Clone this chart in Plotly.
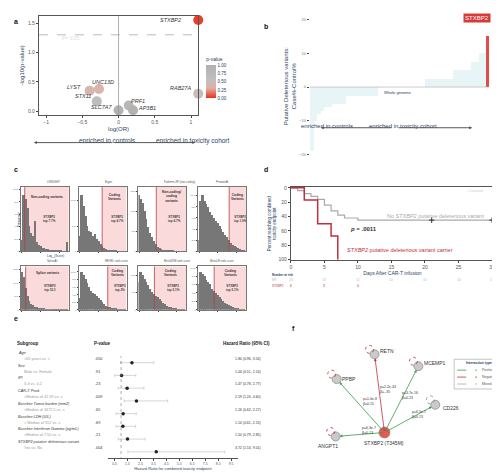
import plotly.graph_objects as go

W, H = 500, 473

# ---- panel a data
genes_a = ["STXBP2", "RAB27A", "UNC13D", "LYST", "STX11", "SLC7A7", "PRF1", "AP3B1"]
logor_a = [1.1, 1.1, -0.27, -0.4, -0.3, 0.0, 0.14, 0.2]
nlogp_a = [1.55, 0.3, 0.38, 0.35, 0.17, 0.02, 0.1, 0.02]
pval_a = [0.03, 0.5, 0.35, 0.4, 0.65, 0.95, 0.8, 0.95]

# ---- panel b data
burden_b = [-19, -10, -8, -7, -6, -6, -5, -5, -5, -5, -2.5, -2.5, -2.5, -2.5, -2.5, -2.5, -2.5, -2.5, -2.5,
            0, 0, 0, 0, 0, 0, 0, 0, 0, 0, 0, 0, 0,
            2.5, 2.5, 2.5, 2.5, 2.5, 2.5, 2.5, 2.5, 5, 5, 5, 5, 5, 7.5, 7.5, 10, 10, 15]

# ---- panel c data
c_titles = ["LINSIGHT", "Eigen", "Fathmm-XF (non-coding)", "PrimateAI",
            "SpliceAI", "REVEL rank score", "MetaSVM rank score", "MetaLR rank score"]
c_labels = ["Non-coding variants", "Coding<br>Variants", "Non-coding/<br>coding<br>variants", "Coding<br>Variants",
            "Splice variants", "Coding<br>Variants", "Coding<br>Variants", "Coding<br>Variants"]
c_tops = ["STXBP2<br>top 7.7%", "STXBP2<br>top 4.7%", "STXBP2<br>top 4.7%", "STXBP2<br>top 1.9%",
          "STXBP2<br>top 33.3", "STXBP2<br>top 2%", "STXBP2<br>top 5.1%", "STXBP2<br>top 5.1%"]
c_counts = [
    [180, 900, 850, 700, 400, 300, 250, 480, 150, 100, 80, 60, 50, 40, 30, 20, 20, 15, 10, 10, 8, 6, 5, 5, 150],
    [300, 1100, 900, 700, 500, 400, 380, 300, 350, 250, 200, 150, 100, 60, 40, 30, 20, 15, 10, 8, 5, 4, 3, 2, 1],
    [1400, 1300, 1200, 1000, 800, 600, 450, 350, 250, 180, 120, 80, 60, 40, 30, 20, 15, 10, 8, 6, 5, 4, 3, 2, 1],
    [200, 900, 1000, 900, 850, 800, 700, 650, 600, 550, 500, 450, 400, 350, 300, 250, 200, 150, 120, 100, 80, 60, 40, 20, 10],
    [1400, 1200, 800, 500, 300, 200, 150, 100, 80, 60, 40, 30, 20, 15, 10, 8, 6, 5, 4, 3, 2, 2, 1, 1, 1],
    [300, 1000, 900, 800, 700, 600, 500, 450, 400, 350, 300, 250, 200, 150, 100, 80, 60, 40, 30, 20, 10, 8, 5, 3, 2],
    [800, 1100, 1000, 900, 800, 700, 600, 500, 450, 400, 350, 300, 250, 200, 150, 100, 80, 60, 40, 30, 20, 10, 5, 3, 2],
    [600, 900, 850, 800, 700, 650, 600, 500, 450, 400, 350, 300, 250, 200, 150, 120, 100, 80, 60, 40, 30, 20, 10, 5, 2],
]
c_cut = [1.5, 12, 9, 16, 2, 15, 8, 8]

# ---- panel d data
wt_t = [0, 1, 2, 3, 4, 5, 6, 7, 8, 10, 30]
wt_s = [0, 4, 8, 12, 16, 24, 32, 38, 42, 45, 45]
mut_t = [0, 2, 4, 6, 7]
mut_s = [0, 17, 50, 67, 100]
cens_t = [21, 30]
cens_s = [45, 45]
risk_days = [0, 5, 10, 15, 20, 25, 30]
risk_wt = ["23", "13", "11", "10", "10", "10", "10"]
risk_mut = ["6", "3", "0"]

# ---- panel e data
e_groups = ["Age", "Sex", "IPI", "CAR-T Peak", "Baseline Tumor burden (mm2)", "Baseline LDH (U/L)",
            "Baseline Interferon Gamma (pg/mL)", "STXBP2 putative deleterious variant"]
e_sub = [">65 years vs. <", "Male vs. Female", "3-4 vs. 0-2", ">Median of 42.59 vs. \u2264",
         ">Median of 3472.5 vs. \u2264", "> Median of 312 vs. \u2264", ">Median of 7.50 vs. \u2264", "Yes vs. No"]
e_p = [".050", ".91", ".23", ".009", ".65", ".69", ".21", ".004"]
e_hr = [1.84, 1.04, 1.47, 2.19, 1.16, 1.14, 1.50, 3.72]
e_lo = [0.96, 0.51, 0.78, 1.24, 0.62, 0.61, 0.79, 1.53]
e_hi = [3.54, 2.14, 2.77, 4.60, 2.17, 2.13, 2.85, 9.01]

# ---- panel f data
f_nodes = ["STXBP2 (T345M)", "RETN", "PPBP", "MCEMP1", "CD226", "ANGPT1"]
f_x = [377, 367, 329, 411, 428, 328]
f_y = [426, 347, 372, 359, 398, 430]
f_type = ["", "neg", "pos", "pos", "pos", "pos"]
f_stat = ["", "p=2.2e-43<br>\u03b2=-.35", "p=1.0e-8<br>\u03b2=0.15", "p=3.7e-16<br>\u03b2=0.23",
          "p=6.5e-7<br>\u03b2=0.13", "p=6.3e-7<br>\u03b2=0.13"]


def dom(x0, x1, y0, y1):
    return [x0 / W, x1 / W], [1 - y1 / H, 1 - y0 / H]


def px(x):
    return x / W


def py(y):
    return 1 - y / H


fig = go.Figure()
lay = {}
ann = []
shapes = []


def add_axes(i, xd, yd, **kw):
    s = "" if i == 1 else str(i)
    lay["xaxis" + s] = dict(domain=xd, anchor="y" + s, **kw.get("x", {}))
    lay["yaxis" + s] = dict(domain=yd, anchor="x" + s, **kw.get("y", {}))


def paper_arrow(x_tail, x_head, y):
    ann.append(dict(x=px(x_head), y=py(y), ax=x_tail - x_head, ay=0, xref="paper", yref="paper",
                    axref="pixel", ayref="pixel", text="", showarrow=True, arrowhead=2, arrowsize=0.6,
                    arrowwidth=1, arrowcolor="#555"))


ax_common = dict(showgrid=False, zeroline=False, tickfont=dict(size=5, color="#555"), ticks="outside",
                 ticklen=2, linecolor="#555", showline=True)

# panel a
xd, yd = dom(30, 190, 5, 105)
add_axes(1, xd, yd, x=dict(range=[-1.1, 1.1], tickvals=[-1, -0.5, 0, 0.5, 1], mirror=True,
                           title=dict(text="log(OR)", font=dict(size=6), standoff=2), **ax_common),
         y=dict(range=[-0.06, 1.62], tickvals=[0, 0.5, 1, 1.5], tickformat=".1f", mirror=True,
                title=dict(text="-log10(p-value)", font=dict(size=6), standoff=2), **ax_common))
fig.add_trace(go.Scatter(x=logor_a, y=nlogp_a, mode="markers", xaxis="x", yaxis="y", cliponaxis=False,
                         marker=dict(size=10, color=pval_a, cmin=0, cmax=1,
                                     colorscale=[[0, "#e8321e"], [0.3, "#e0b0a5"], [0.55, "#c0c0c0"], [1, "#b0b0b0"]],
                                     colorbar=dict(x=px(198), y=py(66), yanchor="middle", lenmode="pixels",
                                                   len=44, thickness=10, xanchor="left",
                                                   title=dict(text="p-value", font=dict(size=5), side="top"),
                                                   tickvals=[0, 0.25, 0.5, 0.75, 1], tickformat=".2f",
                                                   tickfont=dict(size=4.5), outlinewidth=0, ypad=0, xpad=0))))
shapes.append(dict(type="line", xref="x", yref="y", x0=-1.1, x1=1.1, y0=1.3, y1=1.3,
                   line=dict(color="#bbb", dash="dash", width=1)))
shapes.append(dict(type="line", xref="x", yref="y", x0=0, x1=0, y0=-0.06, y1=1.62, line=dict(color="#999", width=0.8)))
ann.append(dict(x=-0.65, y=1.24, xref="x", yref="y", text="P= 0.05", showarrow=False,
                font=dict(size=5, color="#ddd")))
lab_off = {"STXBP2": (-28, 0), "RAB27A": (-18, -6), "UNC13D": (4, -7), "LYST": (-16, -4), "STX11": (-14, -5),
           "SLC7A7": (-17, -3), "PRF1": (9, -4), "AP3B1": (14, -2)}
for g, xv, yv in zip(genes_a, logor_a, nlogp_a):
    ax_, ay_ = lab_off[g]
    ann.append(dict(x=xv, y=yv, xref="x", yref="y", text="<i>" + g + "</i>", showarrow=False, xshift=ax_,
                    yshift=-ay_, font=dict(size=5.5, color="#333")))
ann.append(dict(x=px(68), y=py(125), xref="paper", yref="paper", text="enriched in controls", showarrow=False,
                font=dict(size=6.5)))
ann.append(dict(x=px(146), y=py(125), xref="paper", yref="paper", text="enriched in toxicity cohort",
                showarrow=False, font=dict(size=6.5)))
paper_arrow(105, 25, 133)
paper_arrow(105, 187, 133)

# panel b
xd, yd = dom(302, 482, 5, 147)
add_axes(2, xd, yd, x=dict(visible=False, range=[-0.5, len(burden_b) - 0.5]),
         y=dict(range=[-20.5, 21], tickvals=[-20, -10, 0, 10, 20], showgrid=False, zeroline=False,
                tickfont=dict(size=4, color="#777"), ticks="outside", ticklen=2, showline=False,
                title=dict(text="Putative Deleterious variants:<br>Case%-Control%", font=dict(size=6), standoff=2)))
fig.add_trace(go.Bar(x=list(range(len(burden_b))), y=burden_b, xaxis="x2", yaxis="y2", width=1,
                     marker=dict(color=["#e8f5f7"] * (len(burden_b) - 1) + ["#e34a4a"], line_width=0)))
shapes.append(dict(type="line", xref="x2", yref="y2", x0=-0.5, x1=len(burden_b) - 0.5, y0=0, y1=0,
                   line=dict(color="#aaa", width=0.6)))
ann.append(dict(x=24, y=-1.5, xref="x2", yref="y2", text="Whole genome", showarrow=False, font=dict(size=4)))
ann.append(dict(x=len(burden_b) - 4, y=20.5, xref="x2", yref="y2", text="STXBP2", showarrow=False,
                bgcolor="#d83a3a", font=dict(size=6, color="white"), borderpad=1))
ann.append(dict(x=px(347), y=py(111), xref="paper", yref="paper", text="enriched in controls", showarrow=False,
                font=dict(size=6)))
ann.append(dict(x=px(432), y=py(111), xref="paper", yref="paper", text="enriched in toxicity cohort",
                showarrow=False, font=dict(size=6)))
paper_arrow(385, 313, 118)
paper_arrow(390, 465, 118)

# panel c
c_cols = [(12, 60), (70, 118), (130, 178), (190, 238)]
c_rows = [(178, 243), (258, 302)]
for k in range(8):
    i = 3 + k
    s = str(i)
    cx0, cx1 = c_cols[k % 4]
    cy0, cy1 = c_rows[k // 4]
    ymax = max(c_counts[k]) * 1.15
    xd, yd = dom(cx0, cx1, cy0, cy1)
    add_axes(i, xd, yd, x=dict(range=[-0.5, 25], showticklabels=False, ticks="outside", ticklen=1,
                               showline=True, linecolor="#777", showgrid=False, zeroline=False, mirror=True),
             y=dict(range=[0, ymax], nticks=6, tickfont=dict(size=2.5, color="#777"), ticks="outside",
                    ticklen=1, showline=True, linecolor="#777", showgrid=False, zeroline=False, mirror=True))
    fig.add_trace(go.Bar(x=list(range(25)), y=c_counts[k], xaxis="x" + s, yaxis="y" + s, width=1,
                         marker=dict(color="#777", line_width=0)))
    shapes.append(dict(type="rect", xref="x" + s, yref="y" + s, x0=c_cut[k], x1=25, y0=0, y1=ymax,
                       fillcolor="rgba(240,150,150,0.35)", line_width=0, layer="below"))
    shapes.append(dict(type="line", xref="x" + s, yref="y" + s, x0=c_cut[k], x1=c_cut[k], y0=0, y1=ymax,
                       line=dict(color="#b84040", width=0.8)))
    mid = (c_cut[k] + 25) / 2
    ann.append(dict(x=mid, y=ymax * 0.85, xref="x" + s, yref="y" + s, text="<b>" + c_labels[k] + "</b>",
                    showarrow=False, font=dict(size=3.3, color="#333")))
    ann.append(dict(x=mid + 1.5, y=ymax * 0.5, xref="x" + s, yref="y" + s, text="<b>" + c_tops[k] + "</b>",
                    showarrow=False, font=dict(size=3, color="#444")))
    ann.append(dict(x=(cx0 + cx1) / 2 / W, y=py(cy0 - 1), xref="paper", yref="paper", text=c_titles[k],
                    yanchor="bottom", showarrow=False, font=dict(size=2.8, color="#555")))
ann.append(dict(x=px(6), y=py(210), xref="paper", yref="paper", text="Frequency", textangle=-90,
                showarrow=False, font=dict(size=3)))
ann.append(dict(x=px(36), y=py(248), xref="paper", yref="paper", text="Log<sub>10</sub>(Score)",
                showarrow=False, font=dict(size=3)))

# panel d
xd, yd = dom(283, 487, 178, 252)
add_axes(11, xd, yd, x=dict(range=[0, 30.3], tickvals=[0, 5, 10, 15, 20, 25, 30], mirror=True,
                            title=dict(text="Days After CAR-T infusion", font=dict(size=5), standoff=1), **ax_common),
         y=dict(range=[101, -1], tickvals=[0, 20, 40, 60, 80, 100], mirror=True,
                title=dict(text="Percent reaching combined<br>toxicity endpoint", font=dict(size=4.5), standoff=1),
                **ax_common))
fig.add_trace(go.Scatter(x=wt_t, y=wt_s, mode="lines", line=dict(shape="hv", color="#aaa", width=1.2),
                         xaxis="x11", yaxis="y11"))
fig.add_trace(go.Scatter(x=mut_t, y=mut_s, mode="lines", line=dict(shape="hv", color="#c0303a", width=1.5),
                         xaxis="x11", yaxis="y11"))
fig.add_trace(go.Scatter(x=cens_t, y=cens_s, mode="markers", cliponaxis=False,
                         marker=dict(symbol="cross-thin", size=4, line=dict(width=1, color="#333")),
                         xaxis="x11", yaxis="y11"))
ann += [dict(x=14, y=39, xref="x11", yref="y11", text="No <i>STXBP2</i> putative deleterious variant",
             showarrow=False, font=dict(size=5.5, color="#aaa"), xanchor="left"),
        dict(x=8.5, y=58, xref="x11", yref="y11", text="<b><i>p</i> = .0011</b>", showarrow=False,
             font=dict(size=6, color="#333"), xanchor="left"),
        dict(x=8, y=86, xref="x11", yref="y11", text="<i>STXBP2</i> putative deleterious variant carrier",
             showarrow=False, font=dict(size=5.5, color="#c0303a"), xanchor="left"),
        dict(x=29, y=5, xref="x11", yref="y11", text="+ Censored", showarrow=False, xanchor="right",
             font=dict(size=3, color="#ccc")),
        dict(x=px(262), y=py(267), xref="paper", yref="paper", text="<b>Number at risk</b>", showarrow=False,
             xanchor="left", font=dict(size=3))]
ann.append(dict(x=px(262), y=py(272), xref="paper", yref="paper", text="WT", showarrow=False,
                xanchor="left", font=dict(size=3, color="#aaa")))
ann.append(dict(x=px(262), y=py(278), xref="paper", yref="paper", text="STXBP2", showarrow=False,
                xanchor="left", font=dict(size=3, color="#c0303a")))
for d, r in zip(risk_days, risk_wt):
    ann.append(dict(x=d, y=py(272), xref="x11", yref="paper", text=r, showarrow=False,
                    font=dict(size=3.5, color="#bbb")))
for d, r in zip(risk_days, risk_mut):
    ann.append(dict(x=d, y=py(278), xref="x11", yref="paper", text=r, showarrow=False,
                    font=dict(size=3.5, color="#c0303a")))

# panel e
xd, yd = dom(99.5, 229.5, 349, 452)
add_axes(12, xd, yd, x=dict(range=[0, 10], tickvals=[0.5, 1.5, 2.5, 3.5, 4.5, 5.5, 6.5, 7.5, 8.5, 9.5],
                            tickformat=".1f", showline=True, linecolor="#555", ticks="outside", ticklen=2,
                            tickfont=dict(size=3.5, color="#555"), showgrid=False, zeroline=False,
                            title=dict(text="Hazard Ratio for combined toxicity endpoint", font=dict(size=4),
                                       standoff=1)),
         y=dict(range=[7.5, -0.5], visible=False))
rows = list(range(len(e_hr)))
fig.add_trace(go.Scatter(x=e_hr, y=rows, mode="markers", xaxis="x12", yaxis="y12",
                         marker=dict(size=3.5, color="#222"),
                         error_x=dict(type="data", symmetric=False,
                                      array=[h - m for h, m in zip(e_hi, e_hr)],
                                      arrayminus=[m - l for m, l in zip(e_hr, e_lo)],
                                      color="#bbb", thickness=0.6, width=1.5)))
shapes.append(dict(type="line", xref="x12", yref="y12", x0=1, x1=1, y0=-0.6, y1=7.5,
                   line=dict(color="#888", dash="dot", width=0.7)))
hdr = dict(xref="paper", yref="paper", showarrow=False, xanchor="left", font=dict(size=4.5, color="#222"))
ann += [dict(x=px(6), y=py(341), text="<b>Subgroup</b>", **hdr),
        dict(x=px(83), y=py(341), text="<b>P-value</b>", **hdr),
        dict(x=px(213), y=py(341), text="<b>Hazard Ratio (95% CI)</b>", **hdr)]
for j in rows:
    yl = 355.5 + j * 12.9
    ann.append(dict(x=px(7), y=py(yl - 6), xref="paper", yref="paper", text="<i>" + e_groups[j] + "</i>",
                    showarrow=False, xanchor="left", font=dict(size=3.8, color="#333")))
    ann.append(dict(x=px(13), y=py(yl), xref="paper", yref="paper", text=e_sub[j], showarrow=False,
                    xanchor="left", font=dict(size=3.8, color="#999")))
    ann.append(dict(x=px(84), y=py(yl), xref="paper", yref="paper", text=e_p[j], showarrow=False,
                    xanchor="left", font=dict(size=3.8, color="#333")))
    ann.append(dict(x=px(225), y=py(yl), xref="paper", yref="paper",
                    text="%.2f (%.2f, %.2f)" % (e_hr[j], e_lo[j], e_hi[j]), showarrow=False,
                    xanchor="left", font=dict(size=3.5, color="#333")))

# panel f
xd, yd = dom(250, 500, 320, 473)
add_axes(13, xd, yd, x=dict(range=[250, 500], visible=False), y=dict(range=[473, 320], visible=False))
ecol = {"pos": "#3a9a4a", "neg": "#c03040"}
for n, xv, yv, t, st in zip(f_nodes, f_x, f_y, f_type, f_stat):
    if not t:
        continue
    ann.append(dict(x=xv, y=yv, ax=f_x[0], ay=f_y[0], xref="x13", yref="y13", axref="x13", ayref="y13",
                    text="", showarrow=True, arrowhead=2, arrowsize=0.7, arrowwidth=0.8, standoff=4,
                    arrowcolor=ecol[t]))
    ann.append(dict(x=(xv + f_x[0]) / 2 + 9, y=(yv + f_y[0]) / 2 - 4, xref="x13", yref="y13", text=st,
                    showarrow=False, font=dict(size=3.5, color="#333"), align="left"))
    lc = "#888" if n == "CD226" else "#c03040"
    shapes.append(dict(type="circle", xref="x13", yref="y13", x0=xv - 9, x1=xv - 1, y0=yv - 9, y1=yv - 1,
                       line=dict(color=lc, dash="dot", width=0.8)))
fig.add_trace(go.Scatter(x=f_x, y=f_y, mode="markers", xaxis="x13", yaxis="y13",
                         marker=dict(size=[11, 9, 9, 9, 9, 9], color=["#e01010"] + ["#b5b5b5"] * 5,
                                     line=dict(color="#555", width=0.7))))
f_lab = [(0, 11), (13, -3), (12, 0), (17, -3), (16, 3), (-8, 10)]
for n, xv, yv, (dx, dy) in zip(f_nodes, f_x, f_y, f_lab):
    ann.append(dict(x=xv + dx, y=yv + dy, xref="x13", yref="y13", text=n, showarrow=False,
                    font=dict(size=5, color="#333")))
shapes.append(dict(type="rect", xref="x13", yref="y13", x0=447, x1=498, y0=352, y1=382,
                   line=dict(color="#aaa", width=0.7)))
ann.append(dict(x=472, y=356, xref="x13", yref="y13", text="<b>Interaction type</b>", showarrow=False,
                font=dict(size=3.5)))
for k, (lbl, c) in enumerate([("Positive", "#3a9a4a"), ("Negative", "#c03040"), ("Mixed", "#aaa")]):
    yy = 363 + k * 7
    shapes.append(dict(type="line", xref="x13", yref="y13", x0=450, x1=470, y0=yy, y1=yy,
                       line=dict(color=c, dash="dash", width=0.8)))
    ann.append(dict(x=473, y=yy, xref="x13", yref="y13", text=lbl, showarrow=False, xanchor="left",
                    font=dict(size=3.5, color="#555")))

# panel letters
for t, x, y in [("a", 3, 5), ("b", 254, 10), ("c", 3, 160), ("d", 254, 160), ("e", 3, 316), ("f", 282, 326)]:
    ann.append(dict(x=px(x), y=py(y), xref="paper", yref="paper", text="<b>" + t + "</b>", showarrow=False,
                    xanchor="left", font=dict(size=7, color="#111")))

fig.update_layout(width=W, height=H, margin=dict(l=0, r=0, t=0, b=0), showlegend=False,
                  plot_bgcolor="white", paper_bgcolor="white", font=dict(family="Liberation Sans"),
                  annotations=ann, shapes=shapes, bargap=0, **lay)
fig.write_html("out.html")
